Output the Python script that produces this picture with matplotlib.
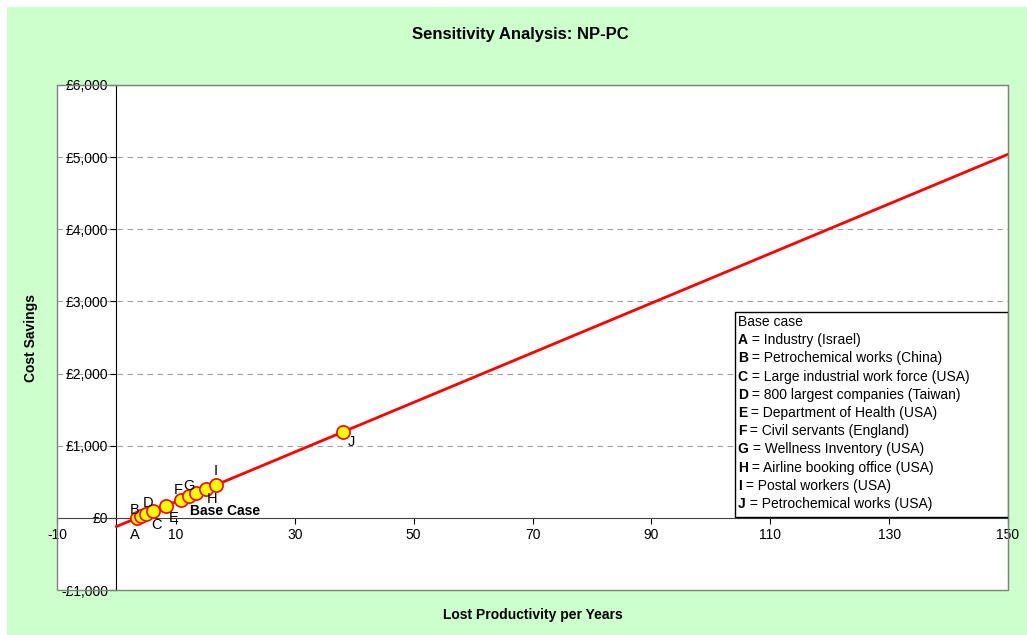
import matplotlib
matplotlib.use("Agg")
import matplotlib.pyplot as plt
from matplotlib.patches import Rectangle
from matplotlib.ticker import FuncFormatter

plt.rcParams['font.family'] = ['Liberation Sans', 'DejaVu Sans']
plt.rcParams['axes.unicode_minus'] = False

# data
line_x = [0, 150]
line_y = [-120, 5040]

pt_x = [3.5, 4.2, 4.9, 6.2, 8.4, 10.8, 12.2, 13.4, 15.1, 16.7, 38.1]
pt_y = [0, 24, 49, 93, 169, 252, 300, 341, 399, 454, 1191]

# point labels: (text, index of point, offset in points, bold)
labels = [
    ("A", 0, (-2, -12), False),
    ("B", 0, (-2, 6), False),
    ("C", 3, (2, -10), False),
    ("D", 2, (2, 8), False),
    ("E", 4, (5, -9), False),
    ("F", 5, (-2, 7), False),
    ("G", 6, (0, 7), False),
    ("H", 8, (4, -7), False),
    ("I", 9, (0, 10), False),
    ("J", 10, (6, -7), False),
    ("Base Case", 7, (21, -13), True),
]

legend_rows = [
    ("A", "Industry (Israel)"),
    ("B", "Petrochemical works (China)"),
    ("C", "Large industrial work force (USA)"),
    ("D", "800 largest companies (Taiwan)"),
    ("E", "Department of Health (USA)"),
    ("F", "Civil servants (England)"),
    ("G", "Wellness Inventory (USA)"),
    ("H", "Airline booking office (USA)"),
    ("I", "Postal workers (USA)"),
    ("J", "Petrochemical works (USA)"),
]

xticks = list(range(-10, 151, 20))
yticks = list(range(-1000, 6001, 1000))

fig = plt.figure(figsize=(10.27, 6.35), dpi=100)
fig.patch.set_facecolor("white")
fig.patches.append(Rectangle((7 / 1027, 0), 1, 1 - 7 / 635, transform=fig.transFigure,
                             facecolor="#CCFFCC", edgecolor="none", zorder=-10))

ax = fig.add_axes([57 / 1027, 45 / 635, 951 / 1027, 505 / 635])
ax.set_facecolor("white")
ax.set_xlim(-10, 150)
ax.set_ylim(-1000, 6000)

for y in yticks:
    if y > 0 and y < 6000:
        ax.axhline(y, color="#A0A0A0", lw=0.8, ls=(0, (5, 4)), zorder=0)

ax.plot(line_x, line_y, color="#FF0000", lw=2, zorder=3)
ax.plot(pt_x, pt_y, ls="none", marker="o", ms=9.5, mfc="#FFFF00", mec="#FF0000",
        mew=1.2, zorder=4)

for text, i, off, bold in labels:
    ax.annotate(text, (pt_x[i], pt_y[i]), xytext=off, textcoords="offset points",
                ha="center", va="center", fontsize=10.5 if not bold else 10,
                fontweight="bold" if bold else "normal", zorder=5)

# axes crossing at zero
for side in ["top", "right"]:
    ax.spines[side].set_color("#808080")
ax.spines["left"].set_position(("data", 0))
ax.spines["bottom"].set_position(("data", 0))
ax.spines["left"].set_color("black")
ax.spines["bottom"].set_color("#404040")
ax.add_patch(Rectangle((0, 0), 1, 1, transform=ax.transAxes, fill=False,
                       edgecolor="#808080", lw=1, zorder=6, clip_on=False))

ax.set_xticks(xticks)
ax.set_yticks(yticks)
ax.yaxis.set_major_formatter(FuncFormatter(
    lambda v, p: ("-£{:,.0f}".format(-v) if v < 0 else "£{:,.0f}".format(v))))
ax.tick_params(axis="x", direction="out", length=4, width=0.8, labelsize=10, pad=3)
ax.tick_params(axis="y", direction="out", length=4, width=0.8, labelsize=10, pad=2)

ax.set_xlabel("Lost Productivity per Years", fontsize=10, fontweight="bold")
ax.xaxis.set_label_coords(0.5, -0.035)
ax.set_ylabel("Cost Savings", fontsize=10, fontweight="bold")
ax.yaxis.set_label_coords(-0.02, 0.5)

fig.text(520 / 1027, 1 - 34 / 635, "Sensitivity Analysis: NP-PC", ha="center",
         va="center", fontsize=12, fontweight="bold")

# text box with the study list
bx0, by0 = (735 - 57) / 951, (590 - 517) / 505
ax.add_patch(Rectangle((bx0, by0), 1 - bx0, (517 - 312) / 505, transform=ax.transAxes,
                       facecolor="white", edgecolor="black", lw=1, zorder=7))
row_h = 18.2 / 505
ty = (590 - 322) / 505
ax.text(bx0 + 0.003, ty, "Base case", transform=ax.transAxes, fontsize=10,
        va="center", zorder=8)
for k, (letter, desc) in enumerate(legend_rows):
    yy = ty - (k + 1) * row_h
    t = ax.text(bx0 + 0.003, yy, letter, transform=ax.transAxes, fontsize=10,
                fontweight="bold", va="center", zorder=8)
    ax.annotate(" = " + desc, xy=(1, 0.5), xycoords=t, va="center", ha="left",
                fontsize=10, zorder=8)

fig.savefig("out.png", dpi=100)
